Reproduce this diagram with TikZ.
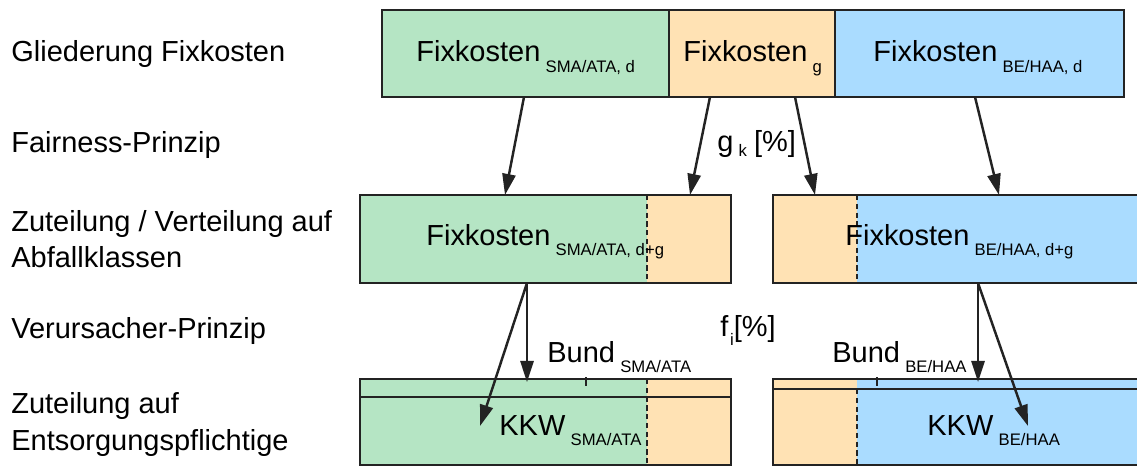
\documentclass[tikz,border=0pt]{standalone}
\usepackage{fontspec}
\setmainfont{Liberation Sans}
\usetikzlibrary{arrows.meta}
\definecolor{kgreen}{RGB}{181,229,196}
\definecolor{korange}{RGB}{255,226,180}
\definecolor{kblue}{RGB}{170,220,255}
\definecolor{kline}{RGB}{35,35,35}
\newcommand{\lowidx}[2][5.7pt]{\hspace{3pt}\raisebox{-#1}{\fontsize{9.5}{11}\selectfont #2}}
\begin{document}
\begin{tikzpicture}[x=0.02cm, y=-0.02cm,
  txt/.style={anchor=base west, inner sep=0, font=\fontsize{16.5}{19.8}\selectfont},
  pfeil/.style={-{Triangle[length=12pt,width=7.5pt]}, line width=1.4pt, kline},
  rand/.style={draw=kline, line width=0.9pt},
  trenn/.style={draw=kline, line width=0.7pt, dash pattern=on 3pt off 2pt}]
\clip (0,0) rectangle (1137,466);
\filldraw[rand, fill=kgreen] (382,10) rectangle (669,97);
\filldraw[rand, fill=korange] (669,10) rectangle (835,97);
\filldraw[rand, fill=kblue] (835,10) rectangle (1124,97);
\fill[kgreen] (360,195) rectangle (647,283);
\fill[korange] (647,195) rectangle (731,283);
\draw[rand] (360,195) rectangle (731,283);
\draw[trenn] (647,195) -- (647,283);
\fill[korange] (773,195) rectangle (857,283);
\fill[kblue] (857,195) rectangle (1150,283);
\draw[rand] (773,195) rectangle (1150,283);
\draw[trenn] (857,195) -- (857,283);
\fill[kgreen] (360,379) rectangle (647,465);
\fill[korange] (647,379) rectangle (731,465);
\draw[rand] (360,379) rectangle (731,465);
\draw[rand] (360,397) -- (731,397);
\draw[trenn] (647,379) -- (647,465);
\fill[korange] (773,379) rectangle (857,465);
\fill[kblue] (857,379) rectangle (1150,465);
\draw[rand] (773,379) rectangle (1150,465);
\draw[rand] (773,389) -- (1150,389);
\draw[trenn] (857,389) -- (857,465);
\draw[rand, line width=0.7pt] (586,377) -- (586,386);
\draw[rand, line width=0.7pt] (877,377) -- (877,386);
\node[txt] (gliederung) at (11,62) {Gliederung Fixkosten};
\node[txt] (fairness) at (11,153) {Fairness-Prinzip};
\node[txt] (verteilung) at (11,232) {Zuteilung / Verteilung auf};
\node[txt] (klassen) at (11,267) {Abfallklassen};
\node[txt] (verursacher) at (11,338) {Verursacher-Prinzip};
\node[txt] (zuteilung) at (11,413) {Zuteilung auf};
\node[txt] (entsorger) at (11,450) {Entsorgungspflichtige};
\node[txt] (fkSMAd) at (416,62) {Fixkosten\lowidx{SMA/ATA, d}};
\node[txt] (fkg) at (683,62) {Fixkosten\lowidx{g}};
\node[txt] (fkBEd) at (873,62) {Fixkosten\lowidx{BE/HAA, d}};
\node[txt] (gk) at (717,152) {g\lowidx[2.8pt]{k}\hspace{4pt}[\%]};
\node[txt] (fkSMAdg) at (426,245) {Fixkosten\lowidx{SMA/ATA, d+g}};
\node[txt] (fkBEdg) at (845,245) {Fixkosten\lowidx{BE/HAA, d+g}};
\node[txt] (fi) at (720,337) {f\hspace{-2pt}\lowidx[5pt]{i}[\%]};
\node[txt] (bundSMA) at (547,362) {Bund\lowidx{SMA/ATA}};
\node[txt] (bundBE) at (832,362) {Bund\lowidx{BE/HAA}};
\node[txt] (kkwSMA) at (499,435) {KKW\lowidx{SMA/ATA}};
\node[txt] (kkwBE) at (927,435) {KKW\lowidx{BE/HAA}};
\coordinate (sma0) at (524,97);
\coordinate (sma1) at (505,195);
\coordinate (g0) at (710,97);
\coordinate (g1) at (690,195);
\coordinate (g2) at (795,97);
\coordinate (g3) at (815,195);
\coordinate (be0) at (975,97);
\coordinate (be1) at (999,195);
\coordinate (sma2) at (527,283);
\coordinate (sma3) at (527,382);
\coordinate (sma4) at (480,426);
\coordinate (be2) at (978,283);
\coordinate (be3) at (978,382);
\coordinate (be4) at (1028,426);
\draw[pfeil](sma0) -- (sma1);
\draw[pfeil](g0) -- (g1);
\draw[pfeil](g2) -- (g3);
\draw[pfeil](be0) -- (be1);
\draw[pfeil](sma2) -- (sma3);
\draw[pfeil](sma2) -- (sma4);
\draw[pfeil](be2) -- (be3);
\draw[pfeil](be2) -- (be4);
\end{tikzpicture}
\end{document}
